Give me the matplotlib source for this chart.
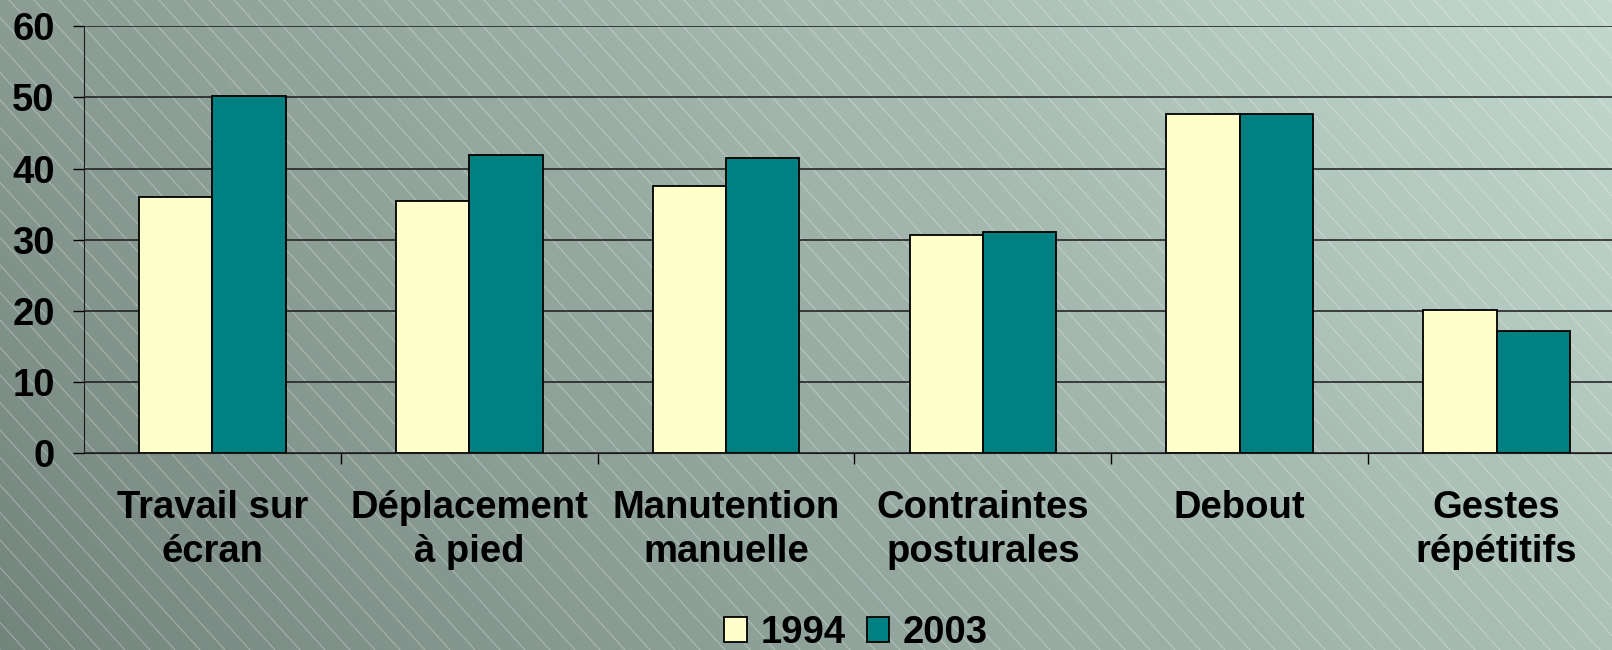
import numpy as np
import matplotlib
matplotlib.use("Agg")
import matplotlib.pyplot as plt
from matplotlib.patches import Patch

categories = ["Travail sur\nécran", "Déplacement\nà pied", "Manutention\nmanuelle",
              "Contraintes\nposturales", "Debout", "Gestes\nrépétitifs"]
series_names = ["1994", "2003"]
values_1994 = [36.0, 35.4, 37.6, 30.6, 47.7, 20.1]
values_2003 = [50.2, 41.9, 41.5, 31.1, 47.7, 17.2]
yticks = [0, 10, 20, 30, 40, 50, 60]

W, H = 1612, 650
DPI = 100
plt.rcParams['font.family'] = ['Liberation Sans', 'DejaVu Sans']
plt.rcParams['font.weight'] = 'bold'

fig = plt.figure(figsize=(W / DPI, H / DPI), dpi=DPI)

# background gradient with diagonal pattern lines
bg = fig.add_axes([0, 0, 1, 1], zorder=-10)
bg.set_axis_off()
tl = np.array([138, 156, 148]) / 255
tr = np.array([194, 216, 206]) / 255
bl = np.array([116, 133, 126]) / 255
br = np.array([171, 192, 182]) / 255
u = np.linspace(0, 1, 200)[None, :, None]
v = np.linspace(0, 1, 80)[:, None, None]
img = (1 - v) * ((1 - u) * tl + u * tr) + v * ((1 - u) * bl + u * br)
bg.imshow(img, extent=[0, W, H, 0], aspect='auto', interpolation='bilinear')
slope = 1.1
spacing = 25
for x0 in np.arange(-H / slope - 50, W + 50, spacing):
    bg.plot([x0, x0 + H / slope], [0, H], color='white', alpha=0.3, lw=0.8)
bg.set_xlim(0, W)
bg.set_ylim(H, 0)

left_px, right_px, top_px, bottom_px = 84, 1625, 26.3, 453
ax = fig.add_axes([left_px / W, 1 - bottom_px / H,
                   (right_px - left_px) / W, (bottom_px - top_px) / H])
ax.patch.set_alpha(0)

x = np.arange(len(categories))
w = 1 / 3.5
ax.bar(x - w / 2, values_1994, w, color='#FFFFCC', edgecolor='black', lw=1.3,
       label=series_names[0], zorder=3)
ax.bar(x + w / 2, values_2003, w, color='#008080', edgecolor='black', lw=1.3,
       label=series_names[1], zorder=3)

ax.set_xlim(-0.5, len(categories) - 0.5)
ax.set_ylim(0, 60)
ax.set_yticks(yticks)
ax.set_yticklabels([str(t) for t in yticks], fontsize=27.5, fontweight='bold')
ax.tick_params(axis='y', length=8, width=1, pad=13)
ax.set_xticks(x)
ax.set_xticklabels(categories, fontsize=27.5, fontweight='bold', linespacing=1.28)
ax.tick_params(axis='x', which='major', length=0, pad=27)
ax.set_xticks(np.arange(0.5, len(categories) - 0.5), minor=True)
ax.tick_params(axis='x', which='minor', length=8, width=1)
ax.yaxis.grid(True, color='#1a1a1a', lw=1.1, zorder=0)
ax.set_axisbelow(True)
for s in ['top', 'right']:
    ax.spines[s].set_visible(False)
ax.spines['left'].set_color('#1a1a1a')
ax.spines['bottom'].set_color('#1a1a1a')

handles = [Patch(facecolor='#FFFFCC', edgecolor='black', lw=1.3),
           Patch(facecolor='#008080', edgecolor='black', lw=1.3)]
fig.legend(handles, series_names, loc='lower center', bbox_to_anchor=(0.531, -0.031),
           ncol=2, frameon=False, prop={'size': 27.5, 'weight': 'bold'},
           handlelength=0.6, handleheight=0.6, handletextpad=0.35,
           columnspacing=0.55, borderpad=0)

fig.savefig("out.png", dpi=DPI)
